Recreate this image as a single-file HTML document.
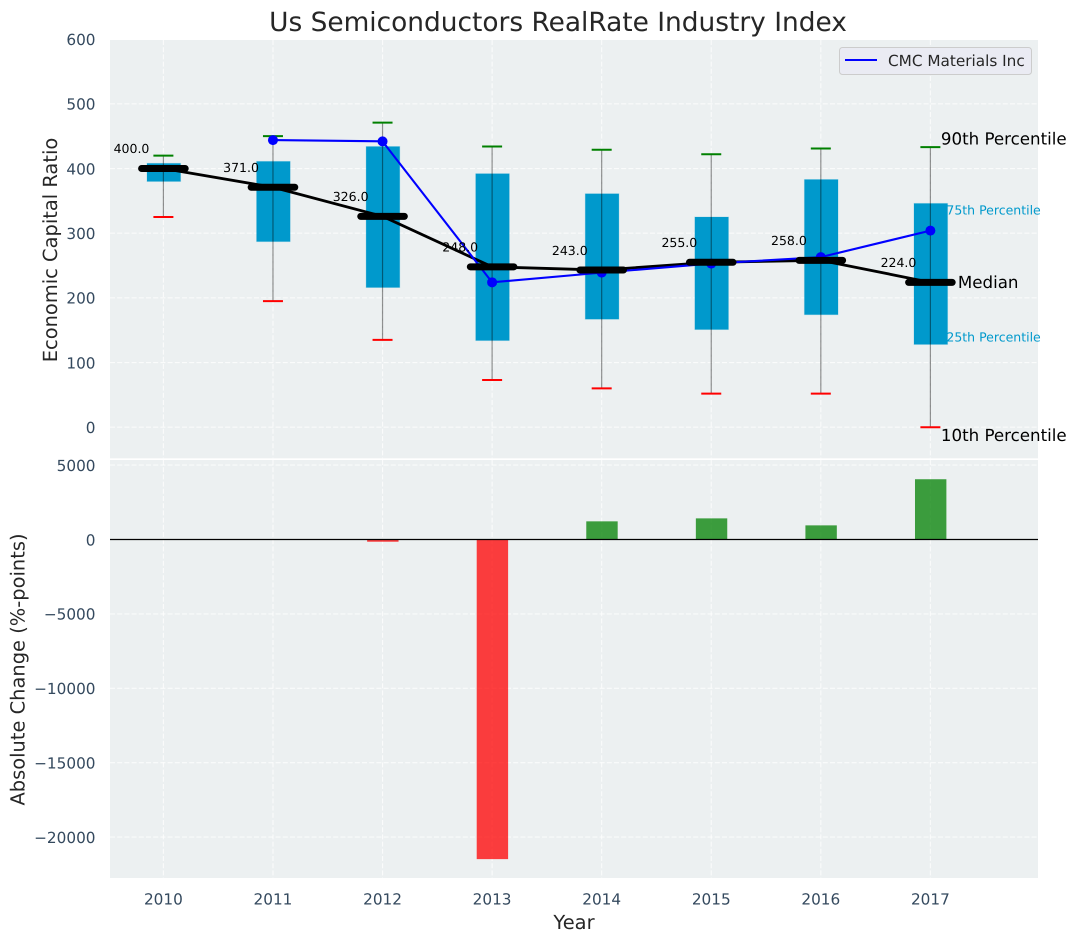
<!DOCTYPE html>
<html>
<head>
<meta charset="utf-8">
<style>
html,body{margin:0;padding:0;background:#fff;}
svg{display:block;}
text{font-family:"DejaVu Sans","Liberation Sans",sans-serif;text-rendering:geometricPrecision;}
</style>
</head>
<body>
<svg id="chart" xmlns="http://www.w3.org/2000/svg" width="1076" height="942" viewBox="0 0 1076 942">
<text x="558" y="31" text-anchor="middle" font-size="26.4" fill="#262626">Us Semiconductors RealRate Industry Index</text>
<text x="574" y="929" text-anchor="middle" font-size="19.44" fill="#262626">Year</text>
<text transform="translate(57,250) rotate(-90)" text-anchor="middle" font-size="19.44" fill="#262626">Economic Capital Ratio</text>
<text transform="translate(24.5,669.5) rotate(-90)" text-anchor="middle" font-size="19.44" fill="#262626">Absolute Change (%-points)</text>
</svg>
<script>
const years = [2010, 2011, 2012, 2013, 2014, 2015, 2016, 2017];
const p90 = [420, 450, 471, 434, 429, 422, 431, 433];
const p75 = [408, 411, 434, 392, 361, 325, 383, 346];
const medians = [400, 371, 326, 248, 243, 255, 258, 224];
const p25 = [380, 287, 216, 134, 167, 151, 174, 128];
const p10 = [325, 195, 135, 73, 60, 52, 52, 0];
const companyYears = [2011, 2012, 2013, 2014, 2015, 2016, 2017];
const companyValues = [444, 442, 224, 239, 253, 263, 304];
const changeYears = [2012, 2013, 2014, 2015, 2016, 2017];
const changeValues = [-150, -21480, 1220, 1420, 950, 4050];
const topTicks = [0, 100, 200, 300, 400, 500, 600];
const bottomTicks = [5000, 0, -5000, -10000, -15000, -20000];

const svg = document.getElementById('chart');
const NS = 'http://www.w3.org/2000/svg';
const L = 110, R = 1038, T1 = 40, B1 = 458.3, T2 = 460, B2 = 878;
const sx = v => 163.4 + (v - 2010) * 109.57;
const sy1 = v => 427.2 - v * 0.6467;
const sy2 = v => 539.5 - v * 0.01488;

function mk(tag, attrs, parent) {
  const el = document.createElementNS(NS, tag);
  for (const k in attrs) el.setAttribute(k, attrs[k]);
  (parent || svg).appendChild(el);
  return el;
}
function line(x1, y1, x2, y2, stroke, w, extra) {
  return mk('line', Object.assign({x1, y1, x2, y2, stroke, 'stroke-width': w}, extra || {}));
}
function label(x, y, txt, size, fill, anchor) {
  const t = mk('text', {x, y, 'font-size': size, fill, 'text-anchor': anchor || 'start'});
  t.textContent = txt;
  return t;
}
const fmtTick = v => (v < 0 ? '\u2212' + (-v) : String(v));

// panels
const topPanel = mk('rect', {x: L, y: T1, width: R - L, height: B1 - T1, fill: '#ecf0f1'});


const bottomPanel = mk('rect', {x: L, y: T2, width: R - L, height: B2 - T2, fill: '#ecf0f1'});



const gridDash = {'stroke-dasharray': '5 2.2', opacity: 0.75};
// gridlines + ticks
topTicks.forEach(v => {
  const g = line(L, sy1(v), R, sy1(v), '#fff', 1.1, gridDash);
  
  
  const t = label(95.5, sy1(v) + 5.8, fmtTick(v), 15.28, '#34495e', 'end');
  
  
});
bottomTicks.forEach(v => {
  const g = line(L, sy2(v), R, sy2(v), '#fff', 1.1, gridDash);
  
  
  const t = label(95.5, sy2(v) + 5.8, fmtTick(v), 15.28, '#34495e', 'end');
  
  
});
years.forEach(y => {
  const g1 = line(sx(y), T1, sx(y), B1, '#fff', 1.1, gridDash);
  
  
  const g2 = line(sx(y), T2, sx(y), B2, '#fff', 1.1, gridDash);
  
  
  const t = label(sx(y), 904.5, String(y), 15.28, '#34495e', 'middle');
  
  
});

// boxes
years.forEach((y, i) => {
  const cx = sx(y);
  const box = mk('rect', {x: cx - 16.4, y: sy1(p75[i]), width: 33.6, height: sy1(p25[i]) - sy1(p75[i]), fill: '#0099cc', stroke: '#0099cc', 'stroke-opacity': 0.2, 'stroke-width': 1});
  
  
  const w = line(cx, sy1(p90[i]), cx, sy1(p10[i]), '#000', 1.2, {opacity: 0.42});
  
  
  const hi = line(cx - 10, sy1(p90[i]), cx + 10, sy1(p90[i]), 'green', 2);
  
  
  const lo = line(cx - 10, sy1(p10[i]), cx + 10, sy1(p10[i]), 'red', 2);
  
  
});

// median connecting line
const medianLine = mk('polyline', {
  points: years.map((y, i) => sx(y) + ',' + sy1(medians[i])).join(' '),
  fill: 'none', stroke: '#000', 'stroke-width': 2.8
});



// company line
const companyLine = mk('polyline', {
  points: companyYears.map((y, i) => sx(y) + ',' + sy1(companyValues[i])).join(' '),
  fill: 'none', stroke: '#0000ff', 'stroke-width': 2.1
});


companyYears.forEach((y, i) => {
  const c = mk('circle', {cx: sx(y), cy: sy1(companyValues[i]), r: 5, fill: '#0000ff'});
  
  
});

// medians + value labels
years.forEach((y, i) => {
  const cx = sx(y), my = sy1(medians[i]);
  const m = line(cx - 21.8, my, cx + 21.8, my, '#000', 7, {'stroke-linecap': 'round'});
  
  
  const t = label(cx - 31.9, my - 15.3, medians[i].toFixed(1), 12.5, '#000', 'middle');
  
  
});

// percentile annotations (attached to the last year's values)
const lastIdx = years.length - 1;
const lastX = sx(years[lastIdx]);
const a90 = label(lastX + 10.5, sy1(p90[lastIdx]) - 2.8, '90th Percentile', 16.67, '#000');


const a75 = label(lastX + 16, sy1(p75[lastIdx]) + 11, '75th Percentile', 12.5, '#0099cc');


const a50 = label(lastX + 27.5, sy1(medians[lastIdx]) + 5.5, 'Median', 16.67, '#000');


const a25 = label(lastX + 16, sy1(p25[lastIdx]) - 3, '25th Percentile', 12.5, '#0099cc');


const a10 = label(lastX + 10.5, sy1(p10[lastIdx]) + 14, '10th Percentile', 16.67, '#000');



// change bars
changeYears.forEach((y, i) => {
  const v = changeValues[i];
  const top = Math.min(sy2(v), sy2(0));
  const h = Math.abs(sy2(v) - sy2(0));
  const bar = mk('rect', {x: sx(y) - 15.4, y: top, width: 31.4, height: h, fill: v < 0 ? 'red' : 'green', opacity: 0.75});
  
  
});
const zero = line(L, sy2(0), R, sy2(0), '#000', 1.2);



// legend
const legendBox = mk('rect', {x: 839.5, y: 47.5, width: 192, height: 27, rx: 3, fill: '#eaeaf2', 'fill-opacity': 0.95, stroke: '#cccccc', 'stroke-width': 1});


const legendLine = line(845, 60, 877, 60, '#0000ff', 2);


const legendText = label(888, 66, 'CMC Materials Inc', 15.28, '#262626');


</script>
</body>
</html>
